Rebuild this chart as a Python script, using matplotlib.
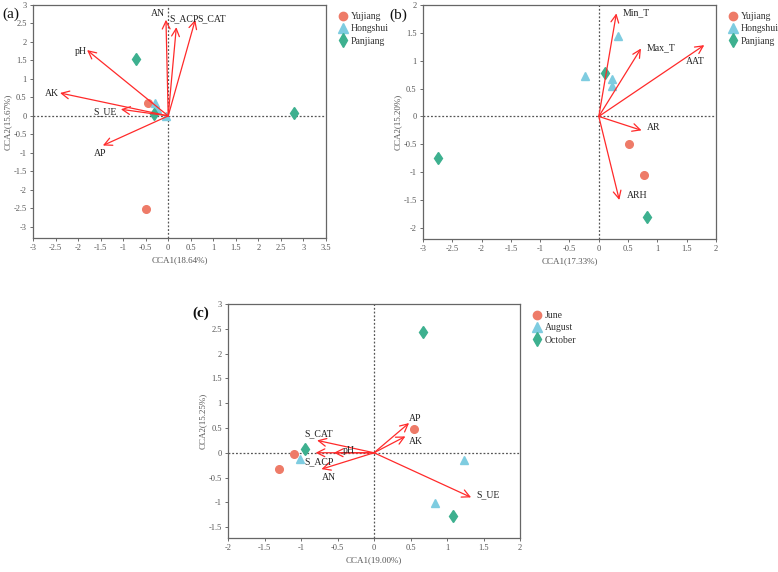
import numpy as np
import matplotlib.pyplot as plt

plt.rcParams['font.family'] = ['Liberation Serif', 'DejaVu Serif']

RED = '#EE7B68'
BLUE = '#7ECCE0'
GREEN = '#3DB08F'
ARROW = '#FF2A2A'

# (a) soil factors, by river
a_yujiang_x = [-0.45, -0.5]
a_yujiang_y = [0.35, -2.52]
a_hongshui_x = [-0.3, -0.24, -0.05]
a_hongshui_y = [0.36, 0.2, 0.0]
a_panjiang_x = [-0.72, -0.32, 2.78]
a_panjiang_y = [1.53, 0.05, 0.08]
a_vec_names = ['AN', 'S_ACP', 'S_CAT', 'pH', 'AK', 'S_UE', 'AP']
a_vec_x = [-0.05, 0.18, 0.6, -1.8, -2.4, -1.05, -1.45]
a_vec_y = [2.6, 2.4, 2.6, 1.78, 0.62, 0.18, -0.8]

# (b) climate factors, by river
b_yujiang_x = [0.52, 0.77]
b_yujiang_y = [-0.5, -1.05]
b_hongshui_x = [-0.24, 0.32, 0.22, 0.23]
b_hongshui_y = [0.73, 1.45, 0.68, 0.55]
b_panjiang_x = [-2.75, 0.11, 0.82]
b_panjiang_y = [-0.75, 0.78, -1.8]
b_vec_names = ['Min_T', 'Max_T', 'AAT', 'AR', 'ARH']
b_vec_x = [0.3, 0.72, 1.8, 0.73, 0.35]
b_vec_y = [1.85, 1.22, 1.28, -0.25, -1.5]

# (c) soil factors, by month
c_june_x = [0.55, -1.1, -1.3]
c_june_y = [0.48, -0.03, -0.32]
c_august_x = [1.23, 0.83, -1.02]
c_august_y = [-0.15, -1.02, -0.12]
c_october_x = [0.67, 1.08, -0.95]
c_october_y = [2.43, -1.27, 0.07]
c_vec_names = ['AP', 'AK', 'S_CAT', 'pH', 'S_ACP', 'AN', 'S_UE']
c_vec_x = [0.48, 0.43, -0.78, -0.55, -0.8, -0.72, 1.33]
c_vec_y = [0.6, 0.33, 0.25, 0.0, 0.0, -0.33, -0.9]


def draw_panel(ax, groups, names, vx, vy, label_pos, xlim, ylim, xt, yt, xlab, ylab):
    ax.set_xlim(xlim)
    ax.set_ylim(ylim)
    ax.axhline(0, color='#555555', ls=(0, (1.5, 1.5)), lw=0.9, zorder=1)
    ax.axvline(0, color='#555555', ls=(0, (1.5, 1.5)), lw=0.9, zorder=1)
    for name, x, y in zip(names, vx, vy):
        ax.annotate('', xy=(x, y), xytext=(0, 0),
                    arrowprops=dict(arrowstyle='->', color=ARROW, lw=0.9,
                                    mutation_scale=14, shrinkA=0, shrinkB=0),
                    zorder=3)
    for name, (lx, ly, ha) in zip(names, label_pos):
        ax.text(lx, ly, name, fontsize=7, ha=ha, va='center', color='#222222', zorder=4)
    handles = []
    for (gx, gy, col, mk, ms, lab) in groups:
        ax.plot(gx, gy, ls='none', marker=mk, color=col, markersize=ms, zorder=2)
        h, = ax.plot([], [], ls='none', marker=mk, color=col, markersize=ms + 0.5, label=lab)
        handles.append(h)
    ax.set_xticks(xt)
    ax.set_yticks(yt)
    ax.set_xticklabels([('%g' % t) for t in xt])
    ax.set_yticklabels([('%g' % t) for t in yt])
    ax.tick_params(labelsize=6, colors='#555555', length=2.5, width=0.6, direction='out', pad=2)
    for s in ax.spines.values():
        s.set_color('#666666')
        s.set_linewidth(0.9)
    ax.set_xlabel(xlab, fontsize=6.5, color='#555555', labelpad=3)
    ax.set_ylabel(ylab, fontsize=6.5, color='#555555', labelpad=1)
    leg = ax.legend(handles=handles, loc='upper left', bbox_to_anchor=(1.02, 0.995),
                    frameon=False, fontsize=7, handletextpad=0.35, labelspacing=0.35,
                    handlelength=1.0, borderaxespad=0.2)
    for t in leg.get_texts():
        t.set_color('#333333')
    return ax


fig = plt.figure(figsize=(7.78, 5.72), dpi=100)

ax1 = fig.add_axes([0.0424, 0.584, 0.3766, 0.4073])
draw_panel(ax1,
           [(a_yujiang_x, a_yujiang_y, RED, 'o', 5.5, 'Yujiang'),
            (a_hongshui_x, a_hongshui_y, BLUE, '^', 6, 'Hongshui'),
            (a_panjiang_x, a_panjiang_y, GREEN, 'd', 6.5, 'Panjiang')],
           a_vec_names, a_vec_x, a_vec_y,
           [(-0.22, 2.77, 'center'), (0.03, 2.62, 'left'), (0.65, 2.62, 'left'),
            (-1.95, 1.74, 'center'), (-2.57, 0.6, 'center'), (-1.4, 0.1, 'center'),
            (-1.5, -1.02, 'center')],
           (-3, 3.5), (-3.3, 3), np.arange(-3, 3.51, 0.5), np.arange(-3, 3.01, 0.5),
           'CCA1(18.64%)', 'CCA2(15.67%)')

ax2 = fig.add_axes([0.5437, 0.5822, 0.3766, 0.409])
draw_panel(ax2,
           [(b_yujiang_x, b_yujiang_y, RED, 'o', 5.5, 'Yujiang'),
            (b_hongshui_x, b_hongshui_y, BLUE, '^', 6, 'Hongshui'),
            (b_panjiang_x, b_panjiang_y, GREEN, 'd', 6.5, 'Panjiang')],
           b_vec_names, b_vec_x, b_vec_y,
           [(0.41, 1.87, 'left'), (0.81, 1.23, 'left'), (1.65, 0.98, 'center'),
            (0.82, -0.2, 'left'), (0.48, -1.42, 'left')],
           (-3, 2), (-2.2, 2), np.arange(-3, 2.01, 0.5), np.arange(-2, 2.01, 0.5),
           'CCA1(17.33%)', 'CCA2(15.20%)')

ax3 = fig.add_axes([0.2931, 0.0594, 0.3753, 0.409])
draw_panel(ax3,
           [(c_june_x, c_june_y, RED, 'o', 5.5, 'June'),
            (c_august_x, c_august_y, BLUE, '^', 6, 'August'),
            (c_october_x, c_october_y, GREEN, 'd', 6.5, 'October')],
           c_vec_names, c_vec_x, c_vec_y,
           [(0.57, 0.69, 'center'), (0.58, 0.22, 'center'), (-0.95, 0.38, 'left'),
            (-0.43, 0.05, 'left'), (-0.95, -0.18, 'left'), (-0.62, -0.5, 'center'),
            (1.4, -0.85, 'left')],
           (-2, 2), (-1.72, 3), np.arange(-2, 2.01, 0.5), np.arange(-1.5, 3.01, 0.5),
           'CCA1(19.00%)', 'CCA2(15.25%)')

fig.text(0.003, 0.975, '(a)', fontsize=11, color='#111111', va='center')
fig.text(0.5, 0.973, '(b)', fontsize=11, color='#111111', va='center')
fig.text(0.247, 0.453, '(c)', fontsize=11, color='#111111', va='center', weight='bold')

fig.savefig('out.png', dpi=100)
